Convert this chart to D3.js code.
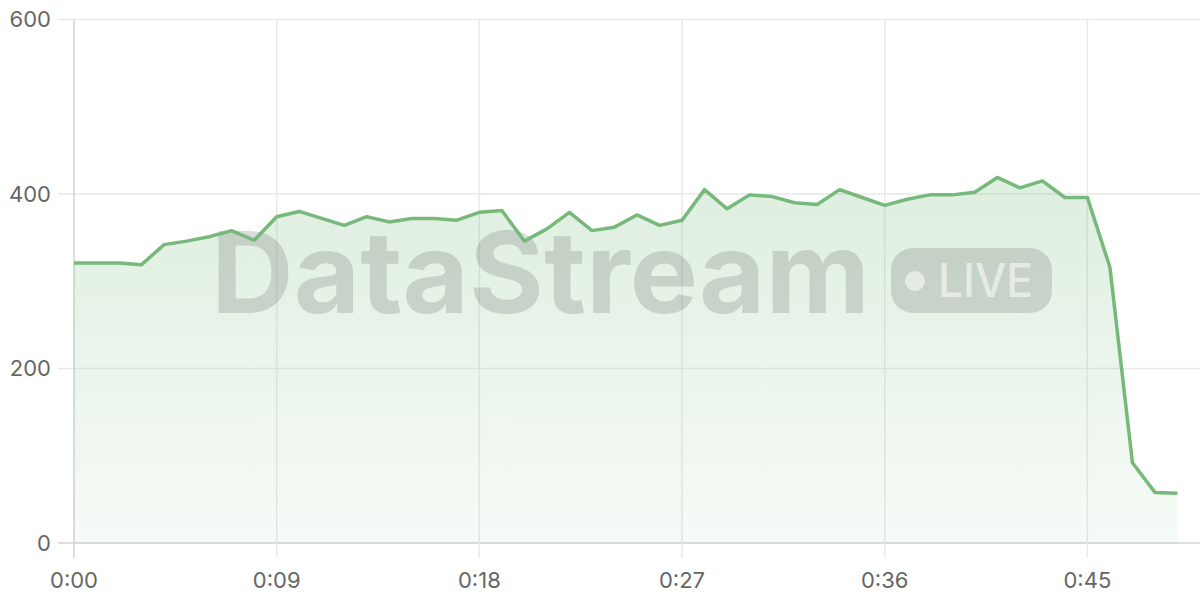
<!DOCTYPE html>
<html>
<head>
<meta charset="utf-8">
<script src="https://cdn.jsdelivr.net/npm/d3@7"></script>
<style>
  body { margin: 0; background: #fff; }
  text { font-family: Inter, "Noto Sans", sans-serif; }
</style>
</head>
<body>
<div id="chart-area"></div>
<script>
// chart size
var width = 1200;
var height = 600;

// data: one value per time step (0:00 .. 0:49)
var values = [321, 321, 321, 319, 342, 346, 351, 358, 347, 374,
              380, 372, 364, 374, 368, 372, 372, 370, 379, 381,
              346, 360, 379, 358, 362, 376, 364, 370, 405, 383,
              399, 397, 390, 388, 405, 396, 387, 394, 399, 399,
              402, 419, 407, 415, 396, 396, 316, 92, 58, 57];
var xTicks = [0, 9, 18, 27, 36, 45];
var yTicks = [0, 200, 400, 600];

var data = values.map(function(v, i){ return {t: i, v: v}; });

var svg = d3.select("#chart-area").append("svg")
  .attr("width", width)
  .attr("height", height);

// Scales
var x = d3.scaleLinear().domain([0, 50]).range([74, 1200]);
var y = d3.scaleLinear().domain([0, 600]).range([543, 19.5]);

var fmt = function(d){ return "0:" + d3.format("02d")(d); };

// gradient for the area
var defs = svg.append("defs");
var grad = defs.append("linearGradient")
  .attr("id", "areaFill")
  .attr("gradientUnits", "userSpaceOnUse")
  .attr("x1", 0).attr("x2", 0)
  .attr("y1", y(600)).attr("y2", y(0));
grad.append("stop").attr("offset", "0%").attr("stop-color", "#76b97a").attr("stop-opacity", 0.32);
grad.append("stop").attr("offset", "100%").attr("stop-color", "#76b97a").attr("stop-opacity", 0.06);

// grid
svg.append("g")
  .selectAll("line")
  .data(yTicks)
  .enter().append("line")
  .attr("x1", 58).attr("x2", width)
  .attr("y1", function(d){ return y(d); })
  .attr("y2", function(d){ return y(d); })
  .attr("stroke", function(d){ return d === 0 ? "#d2d2d2" : "#e9e9e9"; })
  .attr("stroke-width", 1.5);

svg.append("g")
  .selectAll("line")
  .data(xTicks)
  .enter().append("line")
  .attr("x1", function(d){ return x(d); })
  .attr("x2", function(d){ return x(d); })
  .attr("y1", y(600)).attr("y2", 558)
  .attr("stroke", function(d){ return d === 0 ? "#d2d2d2" : "#e9e9e9"; })
  .attr("stroke-width", 1.5);

// area
var area = d3.area()
  .x(function(d){ return x(d.t); })
  .y0(y(0))
  .y1(function(d){ return y(d.v); });

svg.append("path")
  .datum(data)
  .attr("d", area)
  .attr("fill", "url(#areaFill)");

// watermark
var wm = svg.append("g").attr("opacity", 0.2);
wm.append("text")
  .attr("x", 211).attr("y", 313)
  .attr("font-size", 113)
  .attr("font-weight", 700)
  .attr("textLength", 659)
  .attr("lengthAdjust", "spacingAndGlyphs")
  .attr("fill", "#555")
  .text("DataStream");
wm.append("rect")
  .attr("x", 891).attr("y", 248)
  .attr("width", 161).attr("height", 65)
  .attr("rx", 22)
  .attr("fill", "#555");
svg.append("circle")
  .attr("cx", 915).attr("cy", 281).attr("r", 10)
  .attr("fill", "#fff").attr("opacity", 0.55);
svg.append("text")
  .attr("x", 938).attr("y", 297)
  .attr("font-size", 46)
  .attr("font-weight", 500)
  .attr("textLength", 95)
  .attr("lengthAdjust", "spacingAndGlyphs")
  .attr("fill", "#fff").attr("opacity", 0.55)
  .text("LIVE");

// line
var line = d3.line()
  .x(function(d){ return x(d.t); })
  .y(function(d){ return y(d.v); });

svg.append("path")
  .datum(data)
  .attr("d", line)
  .attr("fill", "none")
  .attr("stroke", "#76b97a")
  .attr("stroke-width", 3.5)
  .attr("stroke-linejoin", "round");

// tick labels
svg.append("g")
  .selectAll("text")
  .data(yTicks)
  .enter().append("text")
  .attr("x", 51)
  .attr("y", function(d){ return y(d); })
  .attr("dy", "0.35em")
  .attr("text-anchor", "end")
  .attr("font-size", 22)
  .attr("fill", "#666")
  .text(function(d){ return d; });

svg.append("g")
  .selectAll("text")
  .data(xTicks)
  .enter().append("text")
  .attr("x", function(d){ return x(d); })
  .attr("y", 588)
  .attr("text-anchor", "middle")
  .attr("font-size", 22)
  .attr("fill", "#666")
  .text(fmt);
</script>
</body>
</html>
